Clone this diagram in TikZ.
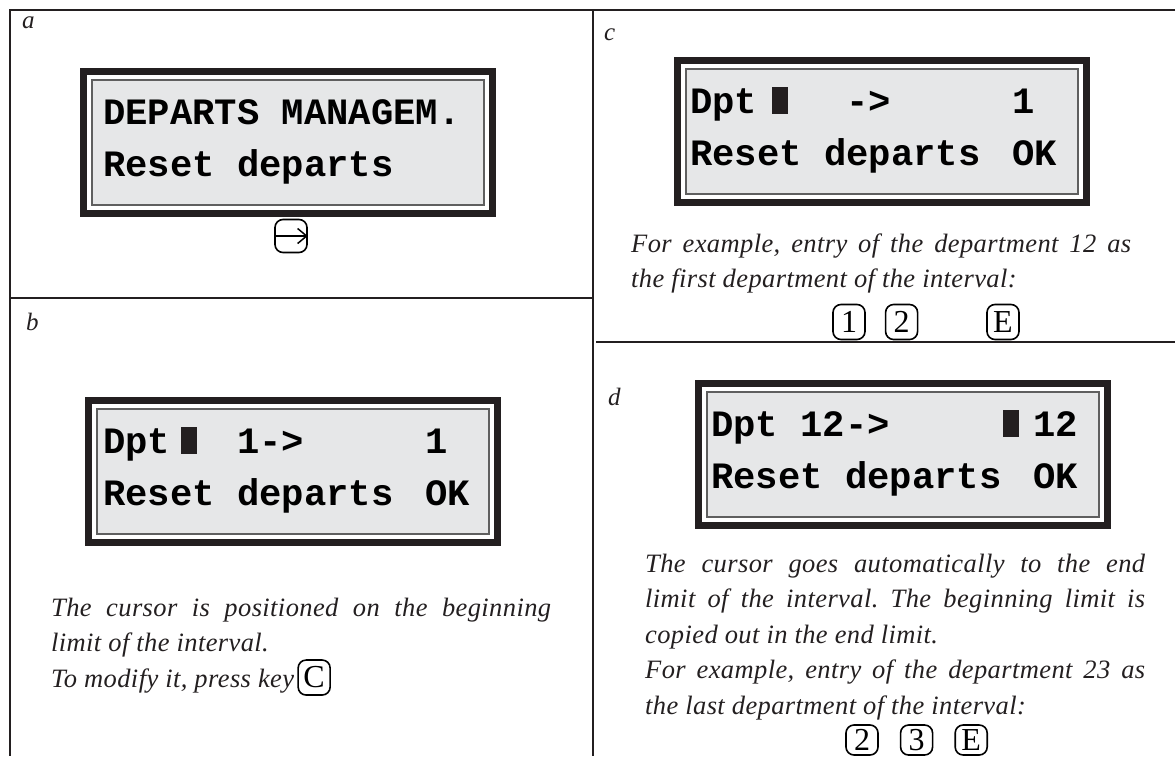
\documentclass[tikz,border=0pt]{standalone}
\usepackage{fontspec}
\setmainfont{Liberation Serif}
\newfontfamily\lcdfont{Liberation Mono}
\newfontfamily\notefont{Liberation Serif}[LetterSpace=1.5]
\usepackage{tikz}
\usetikzlibrary{arrows.meta,positioning,calc}
\usepackage{xcolor}
\definecolor{framegray}{RGB}{35,31,32}
\definecolor{lcdgray}{RGB}{230,231,232}
\definecolor{lcdline}{RGB}{95,95,95}
\frenchspacing

\begin{document}
\begin{tikzpicture}[x=1pt,y=-1pt]
\tikzstyle{frame}=[draw=framegray,line width=2pt]
\tikzstyle{lcd}=[draw=framegray,line width=7pt,fill=white,minimum width=409pt,minimum height=142pt,inner sep=0pt,
  path picture={\draw[lcdline,fill=lcdgray,line width=1.2pt]
    ([shift={(8.5pt,8.5pt)}]path picture bounding box.south west) rectangle
    ([shift={(-8.5pt,-8.5pt)}]path picture bounding box.north east);}]
\tikzstyle{lcdtext}=[font=\lcdfont\bfseries\fontsize{37.2}{40}\selectfont,text=black,anchor=base west,inner sep=0pt]
\tikzstyle{cursor}=[fill=framegray]
\tikzstyle{note}=[font=\notefont\itshape\fontsize{26.5}{35.5}\selectfont,text=framegray,text width=500pt,align=justify,anchor=base west,inner sep=0pt]
\tikzstyle{noteline}=[font=\notefont\itshape\fontsize{26.5}{35.5}\selectfont,text=framegray,anchor=base west,inner sep=0pt]
\tikzstyle{panel}=[font=\itshape\fontsize{25}{25}\selectfont,text=framegray,anchor=base west,inner sep=0pt]
\tikzstyle{keycap}=[draw=black,line width=1.6pt,rounded corners=8pt,minimum width=32pt,minimum height=35pt,inner sep=0pt,
  font=\fontsize{32}{32}\selectfont]
\tikzstyle{keyarrow}=[line width=1.5pt,-{Straight Barb[length=9pt,width=15pt]}]

\useasboundingbox (0,0) rectangle (1176,756);

% panel frame
\draw[frame] (1175,10) -- (10,10) -- (10,756);
\draw[frame] (593,10) -- (593,756);
\draw[frame] (10,298) -- (593,298);
\draw[frame] (596,342) -- (1175,342);

% a
\node[panel] (labA) at (22,28) {a};
\node[lcd] (lcdA) at (288,142.5) {};
\node[lcdtext] (a1) at (103,124) {DEPARTS MANAGEM.};
\node[lcdtext] (a2) at (103,176) {Reset departs};
\node[keycap,minimum width=32pt,minimum height=33pt] (keyEnt) at (291,236) {};
\draw[keyarrow] (keyEnt.west) -- (keyEnt.east);

% b
\node[panel] (labB) at (26,330) {b};
\node[lcd] (lcdB) at (293,471.5) {};
\node[lcdtext] (b1) at (103,453) {Dpt~~~1->};
\node[lcdtext] (b1r) at (425,453) {1};
\node[lcdtext] (b2) at (103,505) {Reset departs};
\node[lcdtext] (b2r) at (425,505) {OK};
\fill[cursor] (181,427) rectangle (197,454);
\node[note] (noteB) at (51,616) {The cursor is positioned on the beginning\linebreak limit of the interval.};
\node[noteline] (modB) at (51,687) {To modify it, press key};
\node[keycap,right=3pt of modB,yshift=3pt] (keyC) {C};

% c
\node[panel] (labC) at (604,40) {c};
\node[lcd] (lcdC) at (882,131.5) {};
\node[lcdtext] (c1) at (690,113) {Dpt~~~~->};
\node[lcdtext] (c1r) at (1012,113) {1};
\node[lcdtext] (c2) at (690,165) {Reset departs};
\node[lcdtext] (c2r) at (1012,165) {OK};
\fill[cursor] (772,87) rectangle (788,114);
\node[note] (noteC) at (631,252) {For example, entry of the department 12 as\linebreak the first department of the interval:};
\node[keycap] (c1key) at (849,322) {1};
\node[keycap,right=19pt of c1key] (c2key) {2};
\node[keycap] (cEkey) at (1003,322) {E};

% d
\node[panel] (labD) at (608,405) {d};
\node[lcd] (lcdD) at (903,454.5) {};
\node[lcdtext] (d1) at (711,436) {Dpt 12->};
\node[lcdtext] (d1r) at (1033,436) {12};
\node[lcdtext] (d2) at (711,488) {Reset departs};
\node[lcdtext] (d2r) at (1033,488) {OK};
\fill[cursor] (1003,410) rectangle (1019,437);
\node[note] (noteD) at (645,572) {The cursor goes automatically to the end\linebreak limit of the interval. The beginning limit is\linebreak copied out in the end limit.\\
For example, entry of the department 23 as\linebreak the last department of the interval:};
\node[keycap,minimum height=30pt] (d2key) at (862,740) {2};
\node[keycap,minimum height=30pt,right=21pt of d2key] (d3key) {3};
\node[keycap,minimum height=30pt,right=21pt of d3key] (dEkey) {E};
\end{tikzpicture}
\end{document}
